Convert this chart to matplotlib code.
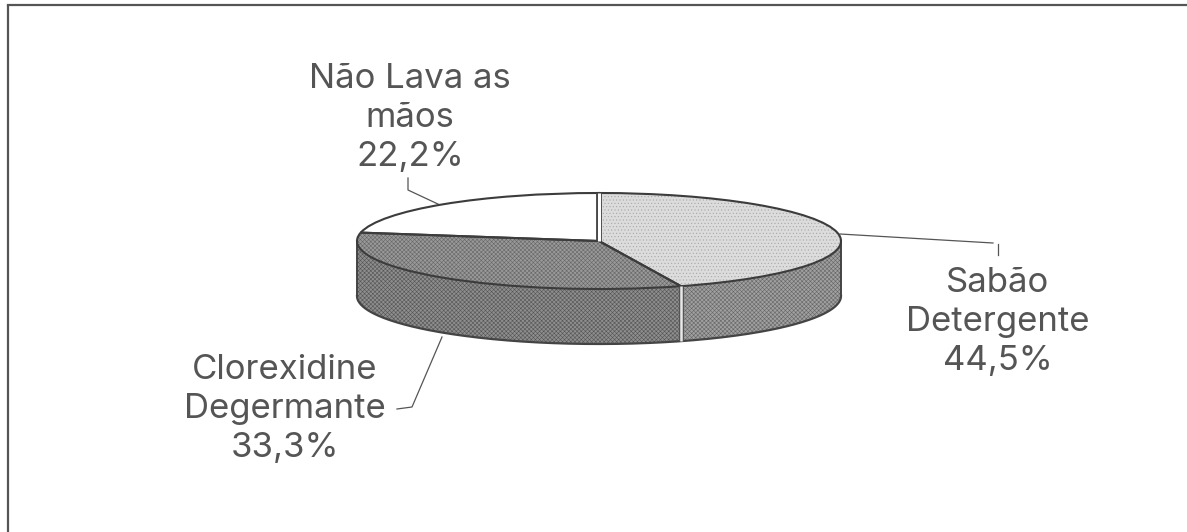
#!/usr/bin/env python3
# -*- coding: utf-8 -*-
import numpy as np
import matplotlib
matplotlib.use('Agg')
import matplotlib.pyplot as plt

names = ['Sabão\nDetergente', 'Clorexidine\nDegermante', 'Não Lava as\nmãos']
shares = [44.5, 33.3, 22.2]
top_colors = ['#dcdcdc', '#999999', '#ffffff']
side_colors = ['#a0a0a0', '#8e8e8e']
hatches = ['.....', 'xxxxxxxx', '']

W, H = 1187, 532
cx, cy = 599, 241
rx, ry = 242, 48
depth = 55 / ry

plt.rcParams['font.family'] = ['Inter', 'DejaVu Sans']
plt.rcParams['hatch.linewidth'] = 0.4

fig = plt.figure(figsize=(W / 100, H / 100), dpi=100, facecolor='white')
ax = fig.add_axes([0, 0, 1, 1])


def px(x, y):
    # picture pixels to data units of the flattened pie
    return (x - cx) / rx, (cy - y) / ry


# the side wall, only the front half of the pie shows
cuts = np.cumsum([0] + shares) / 100 * 2 * np.pi
front = [(np.pi / 2, cuts[1]), (cuts[1], 3 * np.pi / 2)]
for (a, b), col, hatch_col in zip(front, side_colors, ['#666666', '#555555']):
    t = np.linspace(a, b, 120)
    ax.fill_between(np.sin(t), np.cos(t) - depth, np.cos(t), facecolor=col,
                    edgecolor=hatch_col, hatch='xxxxxxxx', linewidth=0, zorder=1)
t = np.linspace(np.pi / 2, 3 * np.pi / 2, 240)
ax.plot(np.sin(t), np.cos(t) - depth, color='#444444', lw=1.6, zorder=2)
for x in (-1, 1):
    ax.plot([x, x], [0, -depth], color='#444444', lw=1.4, zorder=2)

# top face
wedges, _ = ax.pie(shares, startangle=90, counterclock=False, colors=top_colors,
                   wedgeprops={'linewidth': 0})
for w, hatch, col in zip(wedges, hatches, ['#a8a8a8', '#666666', '#ffffff']):
    w.set_hatch(hatch)
    w.set_edgecolor(col)
    w.set_zorder(3)
outline, _ = ax.pie(shares, startangle=90, counterclock=False,
                    wedgeprops={'facecolor': 'none', 'edgecolor': '#3c3c3c', 'linewidth': 1.5})
for w in outline:
    w.set_zorder(4)

# double rules at the slice edges
ax.plot([0, 0], [0, 1], color='#444444', lw=4.2, zorder=5, solid_capstyle='butt')
ax.plot([0, 0], [0, 1], color='white', lw=2.2, zorder=6, solid_capstyle='butt')
x1, y1 = np.sin(cuts[1]), np.cos(cuts[1])
ax.plot([x1, x1], [y1, y1 - depth], color='#555555', lw=3.6, zorder=5, solid_capstyle='butt')
ax.plot([x1, x1], [y1, y1 - depth], color='#e8e8e8', lw=1.8, zorder=6, solid_capstyle='butt')

ax.set_aspect('auto')
ax.set_xlim(px(0, 0)[0], px(W, 0)[0])
ax.set_ylim(px(0, H)[1], px(0, 0)[1])
ax.axis('off')

# leader lines
leaders = [
    [(840, 234), (993, 243)],
    [(998, 244), (998, 255)],
    [(408, 178), (408, 190), (440, 205)],
    [(442, 337), (412, 407), (397, 409)],
]
for pts in leaders:
    xy = np.array([px(*p) for p in pts])
    ax.plot(xy[:, 0], xy[:, 1], color='#555555', lw=0.9, zorder=2)

# labels
label_pos = [(998, 322), (285, 409), (410, 118)]
for name, share, (lx, ly) in zip(names, shares, label_pos):
    txt = name + '\n' + f'{share:.1f}'.replace('.', ',') + '%'
    fig.text(lx / W, 1 - ly / H, txt, ha='center', va='center', fontsize=25,
             color='#555555', linespacing=1.28, multialignment='center')

# scanned frame, only top and left survive
fig.add_artist(plt.Line2D([8 / W, 8 / W], [0, 1 - 6 / H], color='#555555', lw=1.6))
fig.add_artist(plt.Line2D([8 / W, 1], [1 - 5 / H, 1 - 5 / H], color='#555555', lw=1.6))

fig.savefig('out.png', dpi=100)
